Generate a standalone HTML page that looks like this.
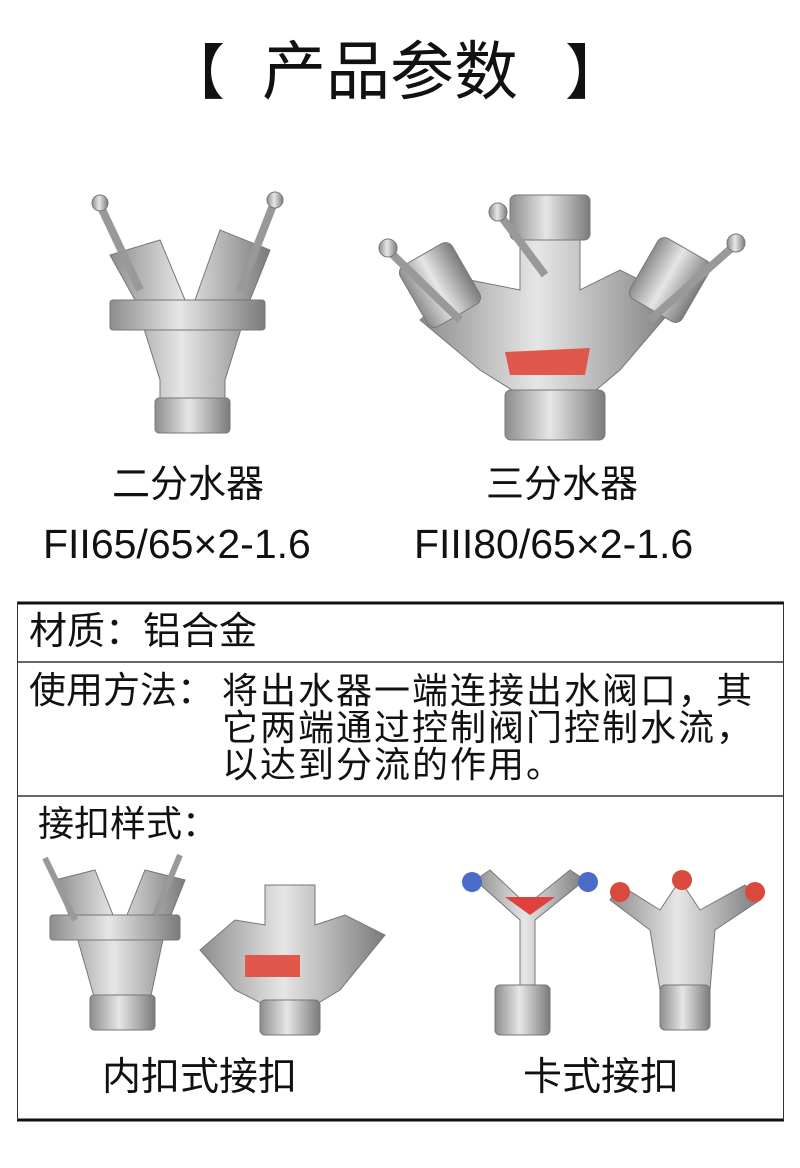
<!DOCTYPE html>
<html><head><meta charset="utf-8"><style>
body{margin:0;width:800px;height:1168px;background:#fff;position:relative;overflow:hidden;font-family:"Liberation Sans","Noto Sans CJK SC",sans-serif;color:#111}
.t{position:absolute;white-space:nowrap;line-height:1}
</style></head><body>
<div class="t" style="left:165px;top:44px;font-size:60px">【</div>
<div class="t" style="left:262px;top:40px;font-size:64px">产品参数</div>
<div class="t" style="left:565px;top:44px;font-size:60px">】</div>

<svg width="800" height="1168" style="position:absolute;left:0;top:0">
<defs>
<linearGradient id="m" x1="0" x2="1"><stop offset="0" stop-color="#8d8d8d"/><stop offset=".45" stop-color="#e6e6e6"/><stop offset="1" stop-color="#7b7b7b"/></linearGradient>
</defs>
<g fill="url(#m)" stroke="#777" stroke-width="1">
<path d="M160 405 L225 405 L225 380 L250 300 L270 250 L220 230 L195 300 L185 300 L160 240 L110 255 L135 300 L160 380Z"/>
<rect x="155" y="398" width="75" height="35" rx="4"/>
<rect x="110" y="300" width="155" height="30" rx="3"/>
<line x1="100" y1="205" x2="140" y2="290" stroke="#999" stroke-width="8"/>
<line x1="275" y1="200" x2="240" y2="290" stroke="#999" stroke-width="8"/>
<circle cx="100" cy="203" r="8"/><circle cx="275" cy="200" r="8"/>
</g>
<g fill="url(#m)" stroke="#777" stroke-width="1">
<path d="M420 320 L470 280 L520 290 L520 230 L580 230 L580 290 L620 270 L680 300 L620 370 L590 395 L520 395 L480 370Z"/>
<rect x="510" y="195" width="80" height="45" rx="6"/>
<rect x="505" y="390" width="100" height="50" rx="6"/>
<rect x="410" y="250" width="60" height="70" rx="8" transform="rotate(-30 440 285)"/>
<rect x="640" y="245" width="60" height="70" rx="8" transform="rotate(30 670 280)"/>
<line x1="388" y1="250" x2="460" y2="320" stroke="#999" stroke-width="8"/>
<line x1="735" y1="245" x2="650" y2="320" stroke="#999" stroke-width="8"/>
<line x1="500" y1="215" x2="545" y2="275" stroke="#999" stroke-width="8"/>
<circle cx="388" cy="248" r="9"/><circle cx="736" cy="243" r="9"/><circle cx="498" cy="212" r="9"/>
</g>
<path d="M505 352 L590 348 L585 375 L510 375Z" fill="#e2574c"/>
<line x1="17" y1="603" x2="784" y2="603" stroke="#111" stroke-width="3"/>
<line x1="17" y1="662" x2="784" y2="662" stroke="#333" stroke-width="1.5"/>
<line x1="17" y1="796" x2="784" y2="796" stroke="#333" stroke-width="1.5"/>
<line x1="17" y1="1120" x2="784" y2="1120" stroke="#111" stroke-width="3"/>
<line x1="17.5" y1="603" x2="17.5" y2="1120" stroke="#333" stroke-width="1"/>
<line x1="783.5" y1="603" x2="783.5" y2="1120" stroke="#333" stroke-width="1"/>
<g fill="url(#m)" stroke="#777" stroke-width="1">
<path d="M95 1000 L150 1000 L165 930 L185 880 L145 870 L125 920 L115 920 L95 870 L55 880 L75 930Z"/>
<rect x="90" y="995" width="65" height="35" rx="4"/>
<rect x="50" y="915" width="130" height="25" rx="3"/>
<path d="M200 950 L235 920 L265 925 L265 885 L315 885 L315 925 L345 915 L385 935 L340 990 L315 1005 L265 1005 L235 990Z"/>
<rect x="260" y="1000" width="60" height="35" rx="5"/>
<line x1="45" y1="858" x2="75" y2="920" stroke="#999" stroke-width="6"/>
<line x1="180" y1="855" x2="155" y2="915" stroke="#999" stroke-width="6"/>
<path d="M475 880 L520 920 L520 990 L535 990 L535 920 L585 880 L570 870 L527 905 L490 870Z"/>
<rect x="495" y="985" width="55" height="50" rx="5"/>
<path d="M610 900 L650 930 L660 990 L710 990 L715 930 L760 900 L745 885 L700 910 L680 880 L660 910 L620 885Z"/>
<rect x="660" y="985" width="50" height="45" rx="5"/>
</g>
<rect x="245" y="955" width="55" height="22" fill="#e2574c"/>
<circle cx="472" cy="882" r="10" fill="#4a6bc8"/><circle cx="588" cy="882" r="10" fill="#4a6bc8"/>
<circle cx="620" cy="892" r="10" fill="#d94a3c"/><circle cx="755" cy="892" r="10" fill="#d94a3c"/><circle cx="682" cy="880" r="10" fill="#d94a3c"/>
<path d="M505 897 L555 897 L530 915Z" fill="#e04040"/>
</svg>

<div class="t" style="left:112px;top:466px;font-size:38px">二分水器</div>
<div class="t" style="left:43px;top:524px;font-size:41px">FII65/65×2-1.6</div>
<div class="t" style="left:486px;top:466px;font-size:38px">三分水器</div>
<div class="t" style="left:414px;top:524px;font-size:41px">FIII80/65×2-1.6</div>

<div class="t" style="left:29px;top:613px;font-size:38px">材质：铝合金</div>
<div class="t" style="left:29px;top:672px;font-size:37px">使用方法：</div>
<div class="t" style="left:222px;top:672px;font-size:36px;line-height:37px;letter-spacing:2px">将出水器一端连接出水阀口，其<br>它两端通过控制阀门控制水流，<br>以达到分流的作用。</div>
<div class="t" style="left:38px;top:806px;font-size:36px">接扣样式：</div>
<div class="t" style="left:102px;top:1058px;font-size:39px">内扣式接扣</div>
<div class="t" style="left:523px;top:1058px;font-size:39px">卡式接扣</div>
</body></html>
